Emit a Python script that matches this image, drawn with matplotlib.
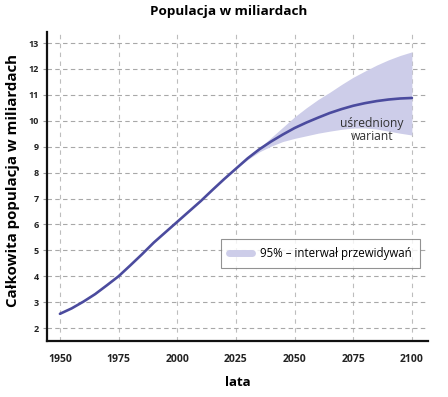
import matplotlib
matplotlib.use("Agg")
import matplotlib.pyplot as plt
from matplotlib.lines import Line2D

plt.rcParams['font.family'] = ['Open Sans', 'DejaVu Sans']

years = [1950, 1955, 1960, 1965, 1970, 1975, 1980, 1985, 1990, 1995, 2000,
         2005, 2010, 2015, 2020, 2025, 2030, 2035, 2040, 2045, 2050, 2055,
         2060, 2065, 2070, 2075, 2080, 2085, 2090, 2095, 2100]
population = [2.55, 2.76, 3.02, 3.31, 3.65, 4.0, 4.42, 4.85, 5.3, 5.7, 6.1,
              6.5, 6.9, 7.33, 7.75, 8.15, 8.55, 8.9, 9.2, 9.47, 9.72, 9.93,
              10.12, 10.3, 10.45, 10.58, 10.68, 10.76, 10.82, 10.86, 10.88]

band_years = [2025, 2030, 2035, 2040, 2045, 2050, 2055, 2060, 2065, 2070,
              2075, 2080, 2085, 2090, 2095, 2100]
band_low = [8.15, 8.5, 8.8, 9.02, 9.2, 9.32, 9.42, 9.52, 9.6, 9.67,
            9.72, 9.72, 9.68, 9.6, 9.52, 9.45]
band_high = [8.15, 8.55, 8.95, 9.35, 9.75, 10.15, 10.5, 10.82, 11.1, 11.4,
             11.68, 11.92, 12.15, 12.35, 12.52, 12.66]

x_ticks = [1950, 1975, 2000, 2025, 2050, 2075, 2100]
y_ticks = list(range(2, 14))

title = "Populacja w miliardach"
x_label = "lata"
y_label = "Całkowita populacja w miliardach"
legend_label = "95% – interwał przewidywań"
annotation = "uśredniony\nwariant"

line_color = "#4b4b9e"
band_color = "#cdcde9"

fig = plt.figure(figsize=(4.48, 3.97), dpi=100)
ax = fig.add_axes([0.105, 0.141, 0.85, 0.778])

ax.fill_between(band_years, band_low, band_high, color=band_color, linewidth=0)
ax.plot(years, population, color=line_color, linewidth=1.9, solid_capstyle='round')

ax.set_xlim(1944.5, 2106.8)
ax.set_ylim(1.5, 13.42)
ax.set_xticks(x_ticks)
ax.set_yticks(y_ticks)
ax.tick_params(axis='x', length=0, pad=9, labelsize=7.5)
ax.tick_params(axis='y', length=3, width=0.8, color='#999999', pad=3, labelsize=6.5)
for lbl in ax.get_xticklabels() + ax.get_yticklabels():
    lbl.set_fontweight('bold')
    lbl.set_color('#222222')

ax.grid(True, axis='y', linestyle=(0, (4, 3)), color='#a8a8a8', linewidth=0.8)
ax.grid(True, axis='x', linestyle=(0, (4, 4)), color='#bdbdbd', linewidth=0.8)
ax.set_axisbelow(True)
for s in ['top', 'right']:
    ax.spines[s].set_visible(False)
for s in ['left', 'bottom']:
    ax.spines[s].set_linewidth(1.6)
    ax.spines[s].set_color('#111111')

ax.set_xlabel(x_label, fontsize=9.5, fontweight='bold', labelpad=8)
ax.set_ylabel(y_label, fontsize=10.8, fontweight='bold')
ax.yaxis.set_label_coords(-0.072, 0.52)
fig.text(0.511, 0.97, title, ha='center', va='center', fontsize=9.7, fontweight='bold')

ax.text(2083, 9.65, annotation, ha='center', va='center', fontsize=8.7,
        color='#333333', linespacing=1.0)

handle = Line2D([0], [0], color=band_color, linewidth=5, solid_capstyle='round')
leg = ax.legend(handles=[handle], labels=[legend_label],
                loc='lower right', bbox_to_anchor=(0.979, 0.236), borderaxespad=0,
                fontsize=8.3, frameon=True, fancybox=False, edgecolor='#777777',
                handlelength=2.0, borderpad=0.7, handletextpad=0.7)
leg.get_frame().set_linewidth(0.8)

fig.savefig("out.png", dpi=100)
